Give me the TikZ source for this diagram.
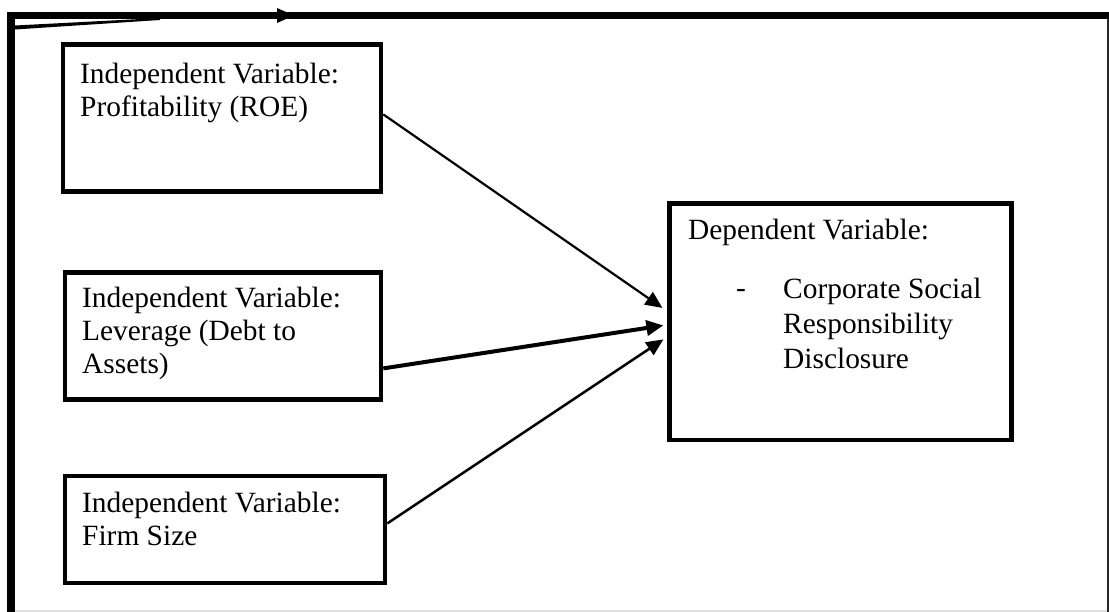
\documentclass[tikz,border=0pt]{standalone}
\usepackage{fontspec}
\setmainfont{Liberation Serif}
\usetikzlibrary{arrows.meta}
\begin{document}
\begin{tikzpicture}[x=1pt,y=-1pt,
  box/.style={draw=black,line width=4.8pt,rectangle,inner sep=0pt,anchor=north west},
  txt/.style={inner sep=0pt,anchor=north west,align=left,font=\fontsize{29.4}{33}\selectfont},
  link/.style={line width=2.2pt,-{Triangle[length=17pt,width=15pt]}}
]
\useasboundingbox (0,0) rectangle (1109,612);
% frame
\draw[line width=1.6pt,black!12] (15,611) -- (1109,611);
\draw[line width=1.2pt,black!85] (1108,19) -- (1108,612);
\draw[line width=7.5pt] (7,15.5) -- (1109,15.5);
\draw[line width=8pt] (11,12) -- (11,612);
\fill (15,25.5) -- (160,18) -- (160,20) -- (15,29.5) -- cycle;
\fill (277,8) -- (294,15.5) -- (277,23) -- cycle;
% boxes
\node[box,minimum width=318pt,minimum height=147pt] (b1) at (60.5,42.5) {};
\node[box,minimum width=316pt,minimum height=127pt] (b2) at (62.5,270.5) {};
\node[box,minimum width=320pt,minimum height=107pt] (b3) at (62.5,473.5) {};
\node[box,minimum width=342pt,minimum height=236pt] (d) at (667.4,201.5) {};
% texts
\node[txt] (t1) at (80,63) {Independent Variable:\\Profitability (ROE)};
\node[txt] (t2) at (82,287) {Independent Variable:\\Leverage (Debt to\\Assets)};
\node[txt] (t3) at (82,492) {Independent Variable:\\Firm Size};
\node[txt,anchor=base west] (td) at (688,240) {Dependent Variable:};
\node[txt,anchor=base west] (dash) at (736,298) {-};
\node[txt,font=\fontsize{29.4}{35}\selectfont] (tc) at (783,278) {Corporate Social\\Responsibility\\Disclosure};
% arrows
\draw[link] ([yshift=4pt]b1.east) -- ([xshift=-5pt,yshift=14pt]d.west);
\draw[link,line width=4pt] ([yshift=-32pt]b2.east) -- ([xshift=-4pt,yshift=-3.5pt]d.west);
\draw[link,line width=2.5pt] ([yshift=6pt]b3.east) -- ([xshift=-4pt,yshift=-17.5pt]d.west);
\end{tikzpicture}
\end{document}
